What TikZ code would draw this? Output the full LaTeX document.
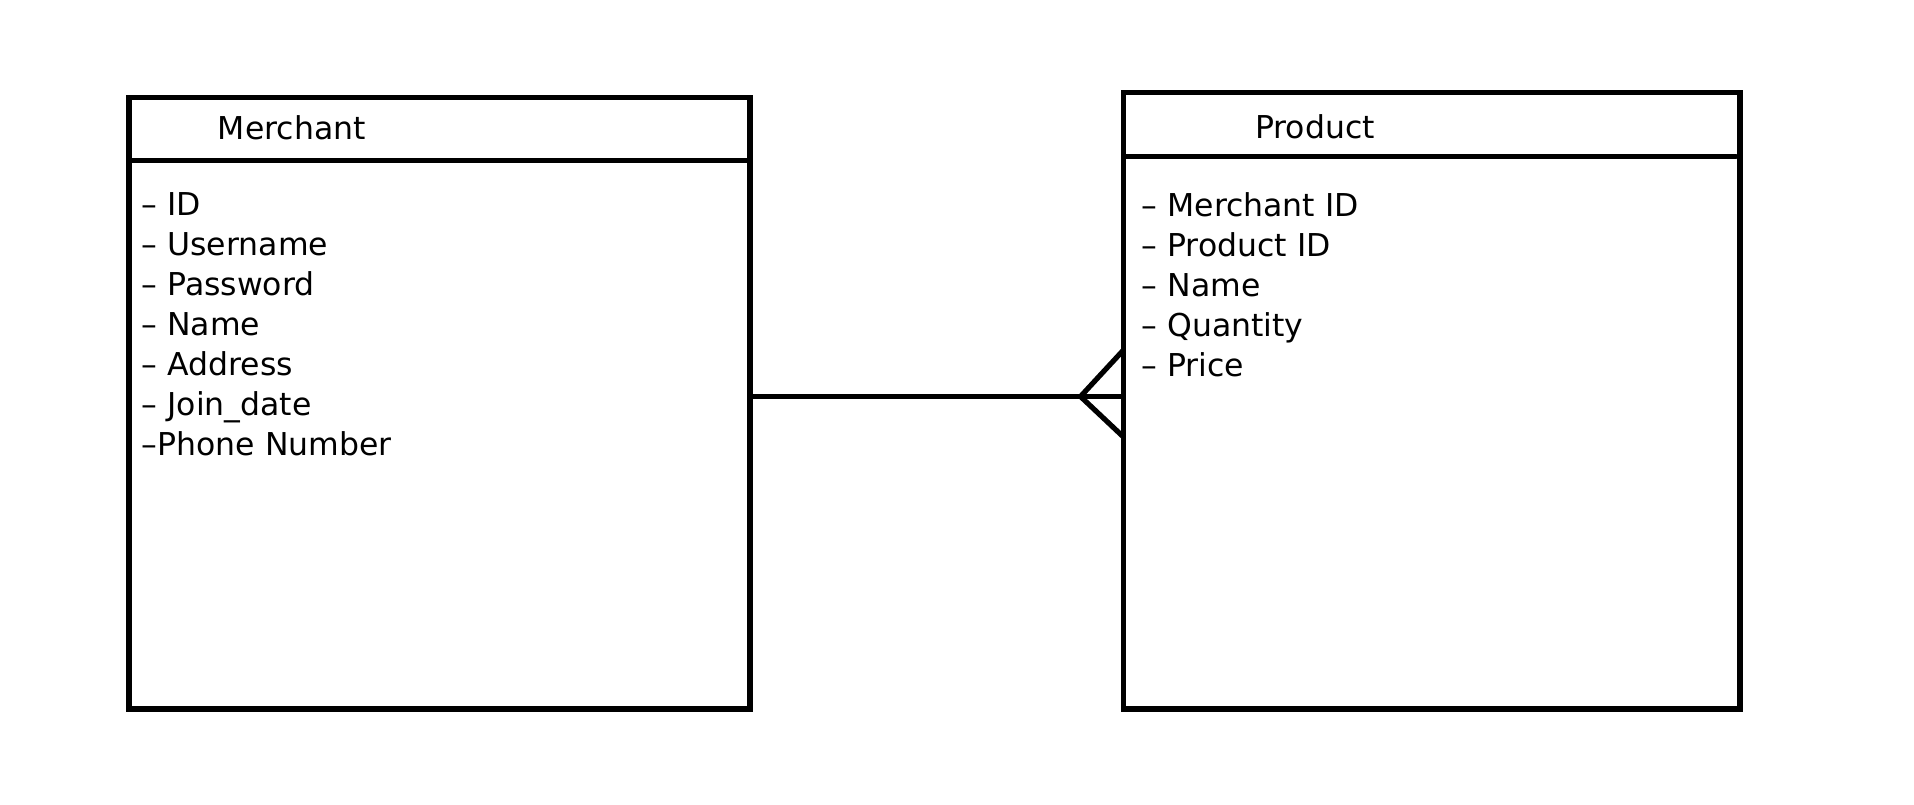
\documentclass[tikz,border=0pt]{standalone}
\usepackage{fontspec}
\setmainfont{DejaVu Sans}
\begin{document}
\begin{tikzpicture}[x=1pt,y=-1pt,
  box/.style={draw=black, line width=5.2pt, rectangle, inner sep=0pt, outer sep=0pt, anchor=north west},
  hline/.style={draw=black, line width=5.2pt},
  conn/.style={draw=black, line width=5.2pt, line join=round},
  ttl/.style={anchor=base west, inner sep=0pt, font=\fontsize{31.5}{40}\selectfont},
  attr/.style={anchor=base west, inner sep=0pt, font=\fontsize{31.5}{40}\selectfont}]
\useasboundingbox (0,0) rectangle (1914,804);
\fill[white] (0,0) rectangle (1914,804);
% entities
\node[box, minimum width=621pt, minimum height=611.5pt] (merchant) at (129,97.5) {};
\node[box, minimum width=616.5pt, minimum height=616.5pt] (product) at (1123.5,92.5) {};
% header separators
\draw[hline] (merchant.north west |- 0,160.5) -- ([xshift=3pt]merchant.north east |- 0,160.5);
\draw[hline, line cap=round] ([xshift=2.5pt]product.north west |- 0,156.5) -- ([xshift=-4pt]product.north east |- 0,156.5);
% titles
\node[ttl] (mt) at (217.7,139.3) {Merchant};
\node[ttl] (pt) at (1255,138.3) {Product};
% attributes
\foreach \t [count=\i from 0] in {– ID,– Username,– Password,– Name,– Address,– Join\_date,–Phone Number}
  \node[attr] (m\i) at (141.5,215+40*\i) {\t};
\foreach \t [count=\i from 0] in {– Merchant ID,– Product ID,– Name,– Quantity,– Price}
  \node[attr] (p\i) at (1141.5,216.8+40*\i) {\t};
% relationship (one-to-many, crow's foot at Product)
\coordinate (ly) at (0,396.5);
\coordinate (apex) at (1080.5,396.5);
\coordinate (up) at (0,350);
\coordinate (lo) at (0,437);
\draw[conn] (merchant.east |- ly) -- (product.west |- ly);
\draw[conn] (product.west |- up) -- (apex) -- (product.west |- lo);
\end{tikzpicture}
\end{document}
